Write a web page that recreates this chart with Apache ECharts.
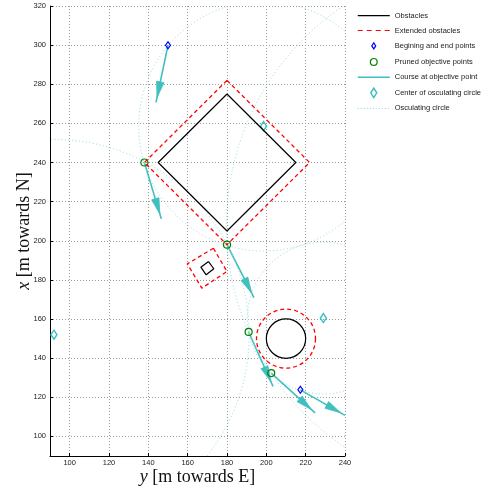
<!DOCTYPE html>
<html>
<head>
<meta charset="utf-8">
<script src="https://cdn.jsdelivr.net/npm/echarts@6/dist/echarts.min.js"></script>
<style>
  html, body { margin: 0; padding: 0; background: #fff; }
  #chart { width: 489px; height: 488px; }
</style>
</head>
<body>
<div id="chart"></div>
<script>
// coordinates are [east (y), north (x)] in metres

// obstacles (closed outlines)
var bigObstacle = [[180, 275], [215, 240], [180, 205], [145, 240], [180, 275]];
var smallObstacle = [[170.6, 189.4], [173.3, 185.7], [169.4, 182.6], [166.7, 186.5], [170.6, 189.4]];
var circleObstacle = [[210, 150, 10]];            // centre east, centre north, radius

// extended obstacles
var bigExtended = [[180, 282], [222, 240], [180, 198], [138, 240], [180, 282]];
var smallExtended = [[173.1, 196.2], [180, 184.3], [167.2, 175.8], [159.8, 188.2], [173.1, 196.2]];
var circleExtended = [[210, 150, 15]];

var beginEndPoints = [[150, 300], [217.3, 123.8]];
var prunedPoints = [[138, 240], [180, 198], [191, 153.4], [202.5, 132.4]];

// course arrows: start east, start north, end east, end north
var courseArrows = [
    [150, 300, 143.9, 270.7],
    [138, 240, 146.6, 211.2],
    [180, 198, 193.7, 171],
    [191, 153.4, 203.4, 125.6],
    [202.5, 132.4, 224.8, 112],
    [217.3, 123.8, 240, 110.8]
];

// osculating circles: centre east, centre north, radius
var osculating = [
    [198.6, 258.6, 63.5],
    [92, 152, 99.3],
    [314.8, 207.6, 135.1],
    [229, 160.5, 38.6]
];
var circleCenters = osculating.map(function (c) { return [c[0], c[1]]; });

var legendNames = ['Obstacles', 'Extended obstacles', 'Begining and end points', 'Pruned objective points',
    'Course at objective point', 'Center of osculating circle', 'Osculating circle'];

var CYAN = '#40bfbf';
var LIGHT_CYAN = '#93d9d9';

// join outlines with a gap so one line series draws them all
function joinOutlines(list) {
    var out = [];
    list.forEach(function (poly, i) {
        if (i > 0) out.push(['-', '-']);
        poly.forEach(function (p) { out.push(p); });
    });
    return out;
}

function circleItem(stroke, width, dash) {
    return function (params, api) {
        var c = api.coord([api.value(0), api.value(1)]);
        var r = api.size([api.value(2), 0])[0];
        return {
            type: 'circle',
            shape: { cx: c[0], cy: c[1], r: r },
            style: { fill: 'none', stroke: stroke, lineWidth: width, lineDash: dash }
        };
    };
}

function arrowItem(params, api) {
    var p0 = api.coord([api.value(0), api.value(1)]);
    var p1 = api.coord([api.value(2), api.value(3)]);
    var dx = p1[0] - p0[0], dy = p1[1] - p0[1];
    var len = Math.sqrt(dx * dx + dy * dy);
    var ux = dx / len, uy = dy / len;
    var headBack = 21, headFront = 5, halfW = 3.8;
    var bx = p1[0] - ux * headBack, by = p1[1] - uy * headBack;
    var tx = p1[0] - ux * headFront, ty = p1[1] - uy * headFront;
    return {
        type: 'group',
        children: [
            { type: 'line', shape: { x1: p0[0], y1: p0[1], x2: p1[0], y2: p1[1] },
              style: { stroke: CYAN, lineWidth: 1.6 } },
            { type: 'polygon', shape: { points: [[tx, ty], [bx - uy * halfW, by + ux * halfW], [bx + uy * halfW, by - ux * halfW]] },
              style: { fill: CYAN, stroke: CYAN, lineWidth: 0.8 } }
        ]
    };
}

var chart = echarts.init(document.getElementById('chart'), null, { renderer: 'canvas' });

var tickFont = { fontFamily: 'Liberation Sans', fontSize: 7.5, color: '#222' };
var nameFont = { fontFamily: 'Liberation Serif', fontSize: 18, color: '#111',
    rich: { i: { fontFamily: 'Liberation Serif', fontSize: 18, fontStyle: 'italic', color: '#111' } } };
var gridDots = { show: true, lineStyle: { color: '#999', width: 1, type: [1, 2] } };

// every legend icon spans the same 32x14 box so rows stay evenly spaced
var BOX = 'path://M0,0M32,14';
var iconSolid = BOX + 'M0,6.4H32V7.6H0Z';
var iconDashed = BOX + 'M0,6.4h5v1.2h-5zM9,6.4h5v1.2h-5zM18,6.4h5v1.2h-5zM27,6.4h5v1.2h-5z';
var iconCourse = BOX + 'M0,6.2H32V7.8H0Z';
var iconDotted = BOX + 'M0,6.5h1v1h-1zM3,6.5h1v1h-1zM6,6.5h1v1h-1zM9,6.5h1v1h-1zM12,6.5h1v1h-1zM15,6.5h1v1h-1zM18,6.5h1v1h-1zM21,6.5h1v1h-1zM24,6.5h1v1h-1zM27,6.5h1v1h-1zM30,6.5h1v1h-1z';
var diamondBlue = BOX + 'M16,4L18,7L16,10L14,7Z';
var diamondCyan = BOX + 'M16,2.3L19,7L16,11.7L13,7Z';
var ringGreen = BOX + 'M12.6,7A3.4,3.4 0 1 1 19.4,7A3.4,3.4 0 1 1 12.6,7Z';

chart.setOption({
    animation: false,
    backgroundColor: '#fff',
    grid: { left: 50, right: 144, top: 6, bottom: 32, containLabel: false, outerBoundsMode: 'none' },
    legend: {
        orient: 'vertical',
        left: 357,
        top: 8.7,
        padding: 0,
        itemWidth: 32,
        itemHeight: 14,
        itemGap: 0.8,
        selectedMode: false,
        textStyle: { fontFamily: 'Liberation Sans', fontSize: 7.5, color: '#222' },
        data: [
            { name: legendNames[0], icon: iconSolid, itemStyle: { color: '#000', borderWidth: 0 } },
            { name: legendNames[1], icon: iconDashed, itemStyle: { color: '#ff0000', borderWidth: 0 } },
            { name: legendNames[2], icon: diamondBlue, itemStyle: { color: 'rgba(0,0,0,0)', borderColor: '#0000ff', borderWidth: 1.2 } },
            { name: legendNames[3], icon: ringGreen, itemStyle: { color: 'rgba(0,0,0,0)', borderColor: '#008000', borderWidth: 1.2 } },
            { name: legendNames[4], icon: iconCourse, itemStyle: { color: CYAN, borderWidth: 0 } },
            { name: legendNames[5], icon: diamondCyan, itemStyle: { color: 'rgba(0,0,0,0)', borderColor: CYAN, borderWidth: 1.5 } },
            { name: legendNames[6], icon: iconDotted, itemStyle: { color: LIGHT_CYAN, borderWidth: 0 } }
        ]
    },
    xAxis: {
        type: 'value',
        min: 90,
        max: 240,
        splitNumber: 8,
        name: '{i|y} [m towards E]',
        nameLocation: 'middle',
        nameGap: 12,
        nameMoveOverlap: false,
        nameTextStyle: nameFont,
        axisLine: { show: true, onZero: false, lineStyle: { color: '#000', width: 1 } },
        axisTick: { show: true, inside: true, length: 3, lineStyle: { color: '#000' } },
        axisLabel: Object.assign({ margin: 3, showMinLabel: false }, tickFont),
        splitLine: gridDots
    },
    yAxis: {
        type: 'value',
        min: 90,
        max: 320,
        splitNumber: 12,
        name: '{i|x} [m towards N]',
        nameLocation: 'middle',
        nameGap: 17,
        nameMoveOverlap: false,
        nameTextStyle: nameFont,
        axisLine: { show: true, onZero: false, lineStyle: { color: '#000', width: 1 } },
        axisTick: { show: true, inside: true, length: 3, lineStyle: { color: '#000' } },
        axisLabel: Object.assign({ margin: 4, showMinLabel: false }, tickFont),
        splitLine: gridDots
    },
    series: [
        {
            name: legendNames[0], type: 'line', symbol: 'none', connectNulls: false,
            data: joinOutlines([bigObstacle, smallObstacle]),
            lineStyle: { color: '#000', width: 1.2 }, itemStyle: { color: '#000' }
        },
        {
            name: legendNames[0], type: 'custom', clip: true,
            encode: { x: 0, y: 1 },
            data: circleObstacle,
            renderItem: circleItem('#000', 1.2, null)
        },
        {
            name: legendNames[1], type: 'line', symbol: 'none', connectNulls: false,
            data: joinOutlines([bigExtended, smallExtended]),
            lineStyle: { color: '#ff0000', width: 1.3, type: [4, 3] }, itemStyle: { color: '#ff0000' }
        },
        {
            name: legendNames[1], type: 'custom', clip: true,
            encode: { x: 0, y: 1 },
            data: circleExtended,
            renderItem: circleItem('#ff0000', 1.3, [4, 3])
        },
        {
            name: legendNames[2], type: 'scatter', symbol: 'diamond', symbolSize: [5, 7],
            data: beginEndPoints,
            itemStyle: { color: 'rgba(0,0,0,0)', borderColor: '#0000ff', borderWidth: 1.2, opacity: 1 }
        },
        {
            name: legendNames[3], type: 'scatter', symbol: 'circle', symbolSize: 7,
            data: prunedPoints,
            itemStyle: { color: 'rgba(0,0,0,0)', borderColor: '#008000', borderWidth: 1.2, opacity: 1 }
        },
        {
            name: legendNames[4], type: 'custom', clip: true,
            encode: { x: [0, 2], y: [1, 3] },
            data: courseArrows,
            renderItem: arrowItem
        },
        {
            name: legendNames[5], type: 'scatter', symbol: 'diamond', symbolSize: [6, 9], clip: true,
            data: circleCenters,
            itemStyle: { color: 'rgba(0,0,0,0)', borderColor: CYAN, borderWidth: 1.5, opacity: 1 }
        },
        {
            name: legendNames[6], type: 'custom', clip: true,
            encode: { x: 0, y: 1 },
            data: osculating,
            renderItem: circleItem(LIGHT_CYAN, 1, [1, 2.5])
        }
    ]
});
</script>
</body>
</html>
